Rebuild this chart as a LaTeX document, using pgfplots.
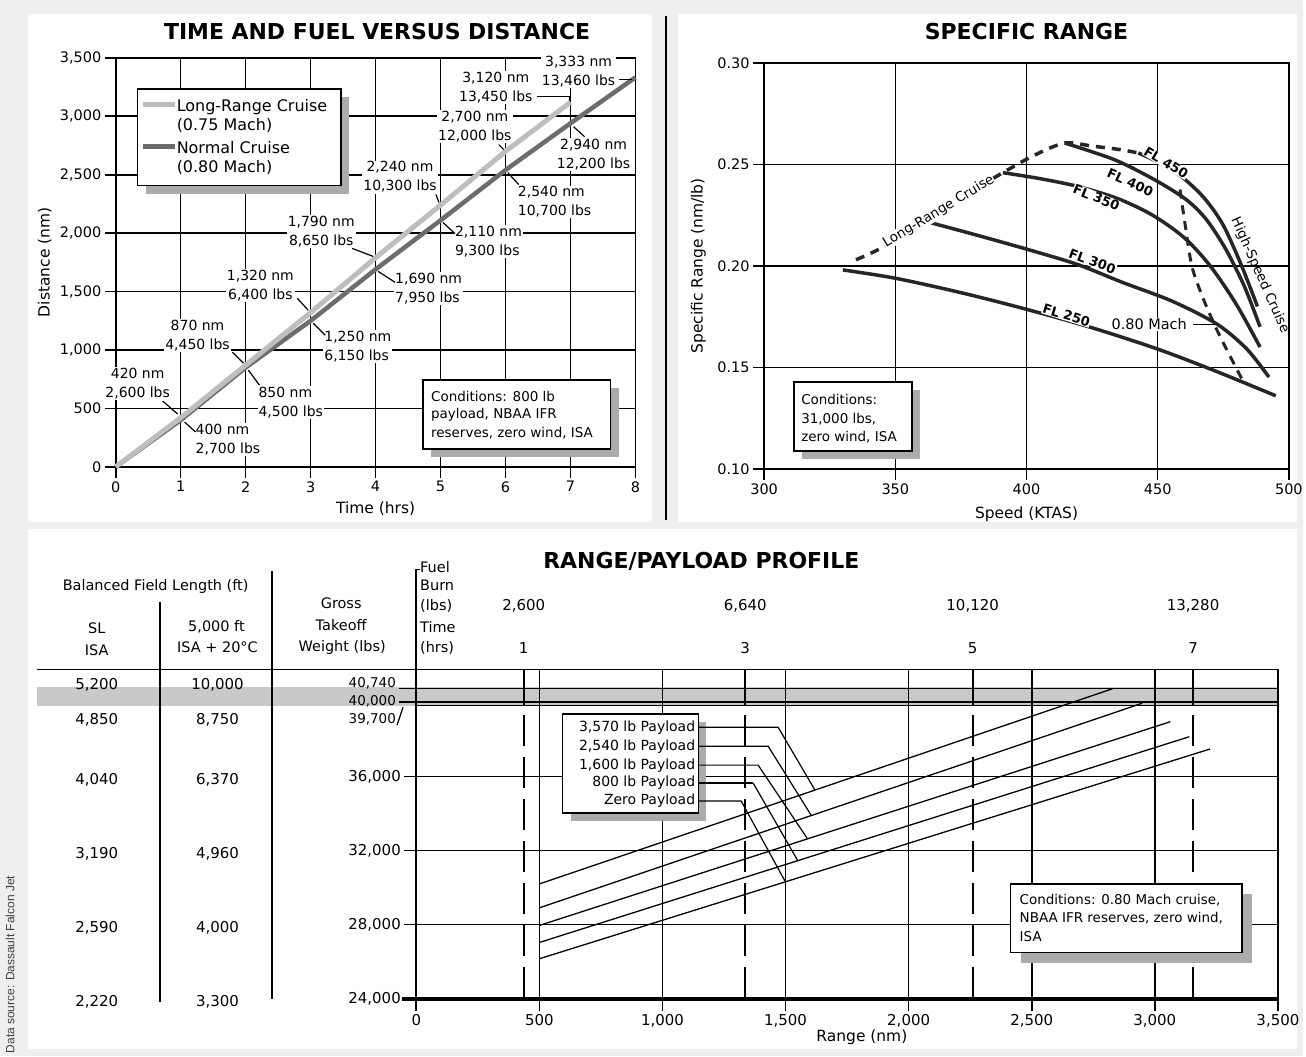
\documentclass[border=0pt]{standalone}
\usepackage{pgfplots}
\pgfplotsset{compat=1.18}
\usepackage{fontspec}
\setmainfont{DejaVu Sans}
\newfontfamily\srcfont{Liberation Sans}
\definecolor{bgray}{HTML}{EFEFEF}
\definecolor{lrc}{HTML}{BEBEBE}
\definecolor{nc}{HTML}{6C6C6C}
\definecolor{shadowc}{HTML}{ABABAB}
\definecolor{bandc}{HTML}{C9C9C9}
\newcommand{\fs}[1]{\fontsize{#1}{#1}\selectfont}
\pgfplotsset{
  panel/.style={
    scale only axis, anchor=south west, clip=false,
    axis line style={black, line width=1.6pt},
    tick style={black, line width=1.6pt},
    tick align=outside, major tick length=11pt, tick pos=left,
    grid=major, major grid style={black, line width=1.6pt},
    scaled ticks=false,
    /pgf/number format/assume math mode=true,
    /pgf/number format/1000 sep={,},
    ticklabel style={font=\fs{14.5}},
    label style={font=\fs{15.5}},
  }
}
\begin{document}
\begin{tikzpicture}[x=1pt, y=-1pt,
  ann/.style={fill=white, inner sep=1pt, font=\fontsize{14}{19}\selectfont, align=center},
  annl/.style={ann, align=left, anchor=west},
  lead/.style={black, line width=1.2pt},
  box/.style={draw=black, line width=1.6pt, fill=white},
  txt/.style={font=\fs{15}, inner sep=0pt},
  hdr/.style={font=\fs{14.5}, inner sep=0pt},
  flab/.style={font=\bfseries\fs{13}, fill=white, inner sep=0.5pt},
]
% ---------- background ----------
\fill[bgray] (0,0) rectangle (1306,1059);
\fill[white] (28,14) rectangle (654,523);
\fill[white] (680,14) rectangle (1300,523);
\fill[white] (28,530) rectangle (1300,1052);
\draw[black, line width=2pt] (668,16) -- (668,521);
\node[font=\srcfont\fs{12}, text=black!75, rotate=90, anchor=west, inner sep=0pt] at (10,1056) {Data source: Dassault Falcon Jet};

% ================= TOP LEFT =================
\node[font=\bfseries\fs{22}] at (378,32) {TIME AND FUEL VERSUS DISTANCE};
\begin{axis}[panel, at={(116pt,-468pt)}, width=521pt, height=410pt,
  xmin=0, xmax=8, ymin=0, ymax=3500,
  xtick={0,1,...,8}, ytick={0,500,...,3500},
  xlabel={Time (hrs)}, ylabel={Distance (nm)},
  xlabel style={at={(axis description cs:0.5,-0.1024)}, anchor=center},
  ylabel style={at={(axis description cs:-0.1363,0.5)}, anchor=center},
]
\addplot[nc, line width=4.5pt] coordinates {(0,0) (1,400) (2,850) (3,1250) (4,1690) (5,2110) (6,2540) (7,2940) (8,3333)};
\addplot[lrc, line width=5pt] coordinates {(0,0) (1,420) (2,870) (3,1320) (4,1790) (5,2240) (6,2700) (7,3120)};
\end{axis}
% annotations (upper: long-range, lower: normal)
\node[ann] at (138,384.5) {420 nm\\2,600 lbs};
\draw[lead] (163,402) -- (178,415);
\node[annl] at (195,441) {400 nm\\2,700 lbs};
\draw[lead] (185,423) -- (196,433);
\node[ann] at (198,336) {870 nm\\4,450 lbs};
\draw[lead] (233,353) -- (244,364);
\node[annl] at (258,403.5) {850 nm\\4,500 lbs};
\draw[lead] (249,371) -- (260,386);
\node[ann] at (261,286) {1,320 nm\\6,400 lbs};
\draw[lead] (298,299) -- (309,311);
\node[annl] at (324,347.5) {1,250 nm\\6,150 lbs};
\draw[lead] (314,324) -- (326,336);
\node[ann] at (322,232.5) {1,790 nm\\8,650 lbs};
\draw[lead] (353,249) -- (374,257);
\node[annl] at (395,289) {1,690 nm\\7,950 lbs};
\draw[lead] (379,272) -- (396,283);
\node[ann] at (401,177.5) {2,240 nm\\10,300 lbs};
\draw[lead] (437,195) -- (440,203);
\node[annl] at (455,242) {2,110 nm\\9,300 lbs};
\draw[lead] (444,223) -- (456,234);
\node[ann] at (476,127) {2,700 nm\\12,000 lbs};
\draw[lead] (500,145) -- (505,150);
\node[annl] at (518,202.5) {2,540 nm\\10,700 lbs};
\draw[lead] (509,173) -- (520,185);
\node[ann] at (497,87.5) {3,120 nm\\13,450 lbs};
\draw[lead] (538,97) -- (571,97) -- (571,101);
\node[ann] at (580,71.5) {3,333 nm\\13,460 lbs};
\draw[lead] (620,80) -- (634,80);
\node[ann] at (595,155) {2,940 nm\\12,200 lbs};
\draw[lead] (575,127) -- (586,137);
% legend box
\fill[shadowc] (146,97) rectangle (350,194);
\draw[box] (138,89) rectangle (342,186);
\draw[lrc, line width=5pt] (143,105) -- (175,105);
\draw[nc, line width=4.5pt] (143,147) -- (175,147);
\node[anchor=west, font=\fs{16}, inner sep=0pt] at (177,107) {Long-Range Cruise};
\node[anchor=west, font=\fs{16}, inner sep=0pt] at (177,126) {(0.75 Mach)};
\node[anchor=west, font=\fs{16}, inner sep=0pt] at (177,148) {Normal Cruise};
\node[anchor=west, font=\fs{16}, inner sep=0pt] at (177,168) {(0.80 Mach)};
% conditions box
\fill[shadowc] (432,389) rectangle (620,458);
\draw[box] (424,381) rectangle (612,450);
\node[anchor=west, font=\fs{13.5}, inner sep=0pt] at (432,397) {Conditions: 800 lb};
\node[anchor=west, font=\fs{13.5}, inner sep=0pt] at (432,416) {payload, NBAA IFR};
\node[anchor=west, font=\fs{13.5}, inner sep=0pt] at (432,434) {reserves, zero wind, ISA};

% ================= TOP RIGHT =================
\node[font=\bfseries\fs{22}] at (1029,32) {SPECIFIC RANGE};
\begin{axis}[panel, at={(766pt,-470pt)}, width=526pt, height=407pt,
  xmin=300, xmax=500, ymin=0.1, ymax=0.3,
  xtick={300,350,...,500}, ytick={0.10,0.15,0.20,0.25,0.30},
  yticklabel style={/pgf/number format/.cd, fixed, fixed zerofill, precision=2},
  xlabel={Speed (KTAS)}, ylabel={Specific Range (nm/lb)},
  xlabel style={at={(axis description cs:0.5,-0.1106)}, anchor=center},
  ylabel style={at={(axis description cs:-0.1255,0.5)}, anchor=center},
  every axis plot/.append style={black!85, line width=3.5pt},
]
% FL 250
\addplot[smooth] coordinates {(330,0.198) (350,0.1939) (375,0.1868) (400,0.1786) (425,0.1695) (450,0.159) (472,0.1482) (495,0.136)};
% FL 300
\addplot[smooth] coordinates {(361.6,0.2219) (381.4,0.2150) (400.4,0.2081) (419.4,0.2007) (436.5,0.1919) (455.5,0.1826) (472.6,0.1713) (484,0.1590) (492.4,0.1452)};
% FL 350
\addplot[smooth] coordinates {(391,0.2459) (405,0.2430) (420,0.2390) (435,0.2330) (448,0.2250) (460,0.2140) (470,0.2000) (480,0.1810) (489,0.1600)};
% FL 400
\addplot[smooth] coordinates {(414.6,0.2605) (433.5,0.2523) (448.7,0.2425) (460.8,0.2327) (468.5,0.2229) (476,0.2081) (483,0.190) (489,0.170)};
% FL 450
\addplot[smooth] coordinates {(442.6,0.2556) (452,0.2500) (460,0.2430) (468,0.2330) (475,0.220) (482,0.200) (488,0.180)};
% long-range cruise
\addplot[smooth, dash pattern=on 9pt off 7pt] coordinates {(335,0.203) (345,0.209) (361.6,0.2219) (375,0.2335) (391,0.2459) (403,0.2545) (414.6,0.2605) (425,0.2590) (436,0.2572) (442.6,0.2556)};
% high-speed cruise
\addplot[smooth, dash pattern=on 9pt off 7pt, line width=3pt] coordinates {(458.5,0.2376) (460.5,0.2200) (463,0.2000) (467,0.185) (472,0.170) (477,0.157) (482,0.1445)};
\end{axis}
\node[flab, rotate=-31] at (1169,163) {FL 450};
\node[flab, rotate=-24] at (1133,183) {FL 400};
\node[flab, rotate=-22] at (1099,198) {FL 350};
\node[flab, rotate=-20] at (1095,262) {FL 300};
\node[flab, rotate=-17] at (1069,316) {FL 250};
\node[font=\fs{14.5}, fill=white, inner sep=1pt] at (1152,325) {0.80 Mach};
\draw[lead] (1196,325) -- (1218,325);
\node[font=\fs{13.5}, fill=white, inner sep=0.5pt, rotate=31] at (941,212) {Long-Range Cruise};
\node[font=\fs{13.5}, inner sep=0pt, rotate=-66] at (1263,276) {High-Speed Cruise};
\fill[shadowc] (804,391) rectangle (922,460);
\draw[box] (796,383) rectangle (914,452);
\node[anchor=west, font=\fs{13.5}, inner sep=0pt] at (803,400) {Conditions:};
\node[anchor=west, font=\fs{13.5}, inner sep=0pt] at (803,420) {31,000 lbs,};
\node[anchor=west, font=\fs{13.5}, inner sep=0pt] at (803,438) {zero wind, ISA};

% ================= BOTTOM =================
\fill[bandc] (37,689) rectangle (1282,708);
\node[font=\bfseries\fs{22}] at (703,563) {RANGE/PAYLOAD PROFILE};
\begin{axis}[panel, at={(417.3pt,-1001pt)}, width=863.7pt, height=330pt,
  xmin=0, xmax=3500, ymin=24000, ymax=41776,
  xtick={0,500,...,3500}, ytick={24000,28000,32000,36000},
  ticklabel style={font=\fs{15}},
  major tick length=12pt,
  xlabel={Range (nm)},
  xlabel style={at={(axis description cs:0.5172,-0.1165)}, anchor=center},
]
\draw[black, line width=1.6pt] (axis cs:-70,40740) -- (axis cs:3500,40740);
\draw[black, line width=1.6pt] (axis cs:-70,40000) -- (axis cs:3500,40000);
\draw[black, line width=1.4pt] (axis cs:0,39830) -- (axis cs:3500,39830);
\pgfplotsinvokeforeach{437,1335,2261,3156}{
  \draw[black, line width=1.6pt] (axis cs:#1,41776) -- (axis cs:#1,39830);
  \draw[black, line width=1.6pt, dash pattern=on 31pt off 11pt] (axis cs:#1,39300) -- (axis cs:#1,24000);
}
\addplot[black, line width=1.3pt] coordinates {(500,30190) (2830,40740)};
\addplot[black, line width=1.3pt] coordinates {(500,28900) (2949,39950)};
\addplot[black, line width=1.3pt] coordinates {(500,27950) (3063,38950)};
\addplot[black, line width=1.3pt] coordinates {(500,27030) (3140,38140)};
\addplot[black, line width=1.3pt] coordinates {(500,26150) (3224,37475)};
\end{axis}
\draw[black, line width=4pt] (403,1001) -- (1282,1001);
\draw[black, line width=1.6pt] (37,671) -- (418,671);
\draw[black, line width=1.6pt] (421,571) -- (417.3,571) -- (417.3,671);
\draw[black, line width=1.8pt] (160,603) -- (160,1004);
\draw[black, line width=1.8pt] (273,572) -- (273,1001);
% header
\node[hdr] at (156,588) {Balanced Field Length (ft)};
\node[hdr] at (97,630) {SL};
\node[hdr] at (97,652) {ISA};
\node[hdr] at (217,628) {5,000 ft};
\node[hdr] at (218,649) {ISA + 20°C};
\node[hdr] at (342,605) {Gross};
\node[hdr] at (342,627) {Takeoff};
\node[hdr] at (343,649) {Weight (lbs)};
\node[hdr, anchor=west] at (421,568) {Fuel};
\node[hdr, anchor=west] at (421,587) {Burn};
\node[hdr, anchor=west] at (421,607) {(lbs)};
\node[hdr, anchor=west] at (421,629) {Time};
\node[hdr, anchor=west] at (421,650) {(hrs)};
\node[txt] at (525,607) {2,600};
\node[txt] at (747,607) {6,640};
\node[txt] at (975,607) {10,120};
\node[txt] at (1196,607) {13,280};
\node[txt] at (525,650) {1};
\node[txt] at (747,650) {3};
\node[txt] at (975,650) {5};
\node[txt] at (1196,650) {7};
% rows
\node[txt] at (97,686) {5,200};   \node[txt] at (218,686) {10,000};
\node[txt, anchor=east, font=\fs{13.5}] at (397,685) {40,740};
\node[txt, anchor=east, font=\fs{13.5}] at (397,703) {40,000};
\node[txt] at (97,722) {4,850};   \node[txt] at (218,722) {8,750};
\node[txt, anchor=east, font=\fs{13.5}] at (397,721) {39,700};
\draw[lead] (398,727) -- (404,709);
\node[txt] at (97,782) {4,040};   \node[txt] at (218,782) {6,370};
\node[txt] at (97,856) {3,190};   \node[txt] at (218,856) {4,960};
\node[txt] at (97,930) {2,590};   \node[txt] at (218,930) {4,000};
\node[txt] at (97,1004) {2,220};  \node[txt] at (218,1004) {3,300};
% payload legend
\fill[shadowc] (572,724) rectangle (708,823);
\draw[box] (564,716) rectangle (700,815);
\node[txt, anchor=east, font=\fs{14}] at (697,729) {3,570 lb Payload};
\node[txt, anchor=east, font=\fs{14}] at (697,748) {2,540 lb Payload};
\node[txt, anchor=east, font=\fs{14}] at (697,767) {1,600 lb Payload};
\node[txt, anchor=east, font=\fs{14}] at (697,785) {800 lb Payload};
\node[txt, anchor=east, font=\fs{14}] at (697,803) {Zero Payload};
\draw[lead] (700,729) -- (780,729) -- (816.8,791.8);
\draw[lead] (700,748) -- (770,748) -- (813,817);
\draw[lead] (700,767) -- (760,767) -- (809.4,840.7);
\draw[black, line width=2.6pt] (700,785) -- (755,785);
\draw[lead] (755,785) -- (799.6,862.6);
\draw[lead] (700,803) -- (743,803) -- (787.2,883.8);
% conditions
\fill[shadowc] (1023,896) rectangle (1255,965);
\draw[box] (1013,886) rectangle (1245,955);
\node[anchor=west, font=\fs{13.5}, inner sep=0pt] at (1022,902) {Conditions: 0.80 Mach cruise,};
\node[anchor=west, font=\fs{13.5}, inner sep=0pt] at (1022,920) {NBAA IFR reserves, zero wind,};
\node[anchor=west, font=\fs{13.5}, inner sep=0pt] at (1022,939) {ISA};
\end{tikzpicture}
\end{document}
